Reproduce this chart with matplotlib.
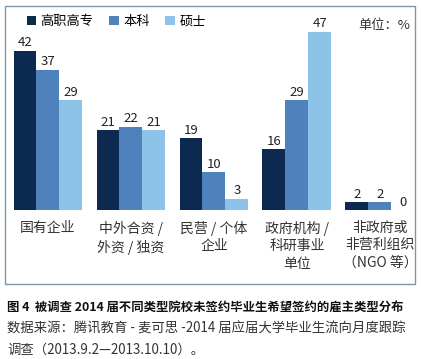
import matplotlib
matplotlib.use("Agg")
from matplotlib import pyplot as plt
from matplotlib.patches import Rectangle
import numpy as np

plt.rcParams['font.family'] = ['Noto Sans CJK SC', 'DejaVu Sans']

categories = ["国有企业", "中外合资 /\n外资 / 独资", "民营 / 个体\n企业", "政府机构 /\n科研事业\n单位", "非政府或\n非营利组织\n（NGO 等）"]
series_names = ["高职高专", "本科", "硕士"]
gaozhi = [42, 21, 19, 16, 2]
benke = [37, 22, 10, 29, 2]
shuoshi = [29, 21, 3, 47, 0]
colors = ["#0c2950", "#4f81bd", "#8ec3e9"]

W, H = 421, 359
fig = plt.figure(figsize=(W / 100, H / 100), dpi=100)

# outer frame around the chart
fig.patches.append(Rectangle((5 / W, 1 - 284 / H), 410 / W, 278 / H,
                             transform=fig.transFigure, fill=False,
                             edgecolor="#7b98a8", linewidth=1.0))

ax = fig.add_axes([5 / W, 1 - 210 / H, 411 / W, 204 / H])
x = np.arange(len(categories))
width = 0.277
for i, (vals, name) in enumerate(zip([gaozhi, benke, shuoshi], series_names)):
    bars = ax.bar(x + (i - 1) * width, vals, width, color=colors[i], label=name)
    for b, v in zip(bars, vals):
        ax.annotate(str(v), (b.get_x() + b.get_width() / 2, v), xytext=(0, 1),
                    textcoords="offset points", ha="center", va="bottom",
                    fontsize=9.5, color="#222222")

ax.set_xlim(-0.518, 4.434)
ax.set_ylim(0, 53.8)
for s in ax.spines.values():
    s.set_visible(False)
ax.set_yticks([])
ax.set_xticks(x)
ax.set_xticklabels(categories, fontsize=10, linespacing=1.3, color="#333333")
ax.tick_params(axis="x", length=0, pad=8)

ax.legend(loc="upper left", bbox_to_anchor=(0.03, 1.0), ncol=3, frameon=False,
          fontsize=9.5, handlelength=0.75, handleheight=0.75, handletextpad=0.3,
          columnspacing=1.2, borderaxespad=0.3)
fig.text(410 / W, 1 - 25 / H, "单位：%", ha="right", va="center", fontsize=9.5, color="#333333")

fig.text(7 / W, 1 - 307 / H, "图 4  被调查 2014 届不同类型院校未签约毕业生希望签约的雇主类型分布",
         ha="left", va="center", fontsize=8.9, fontweight="bold", color="#111111")
fig.text(7 / W, 1 - 329 / H, "数据来源：腾讯教育 - 麦可思 -2014 届应届大学毕业生流向月度跟踪",
         ha="left", va="center", fontsize=9.6, color="#333333")
fig.text(7 / W, 1 - 350 / H, "调查（2013.9.2—2013.10.10）。",
         ha="left", va="center", fontsize=9.6, color="#333333")

fig.savefig("out.png", dpi=100)
